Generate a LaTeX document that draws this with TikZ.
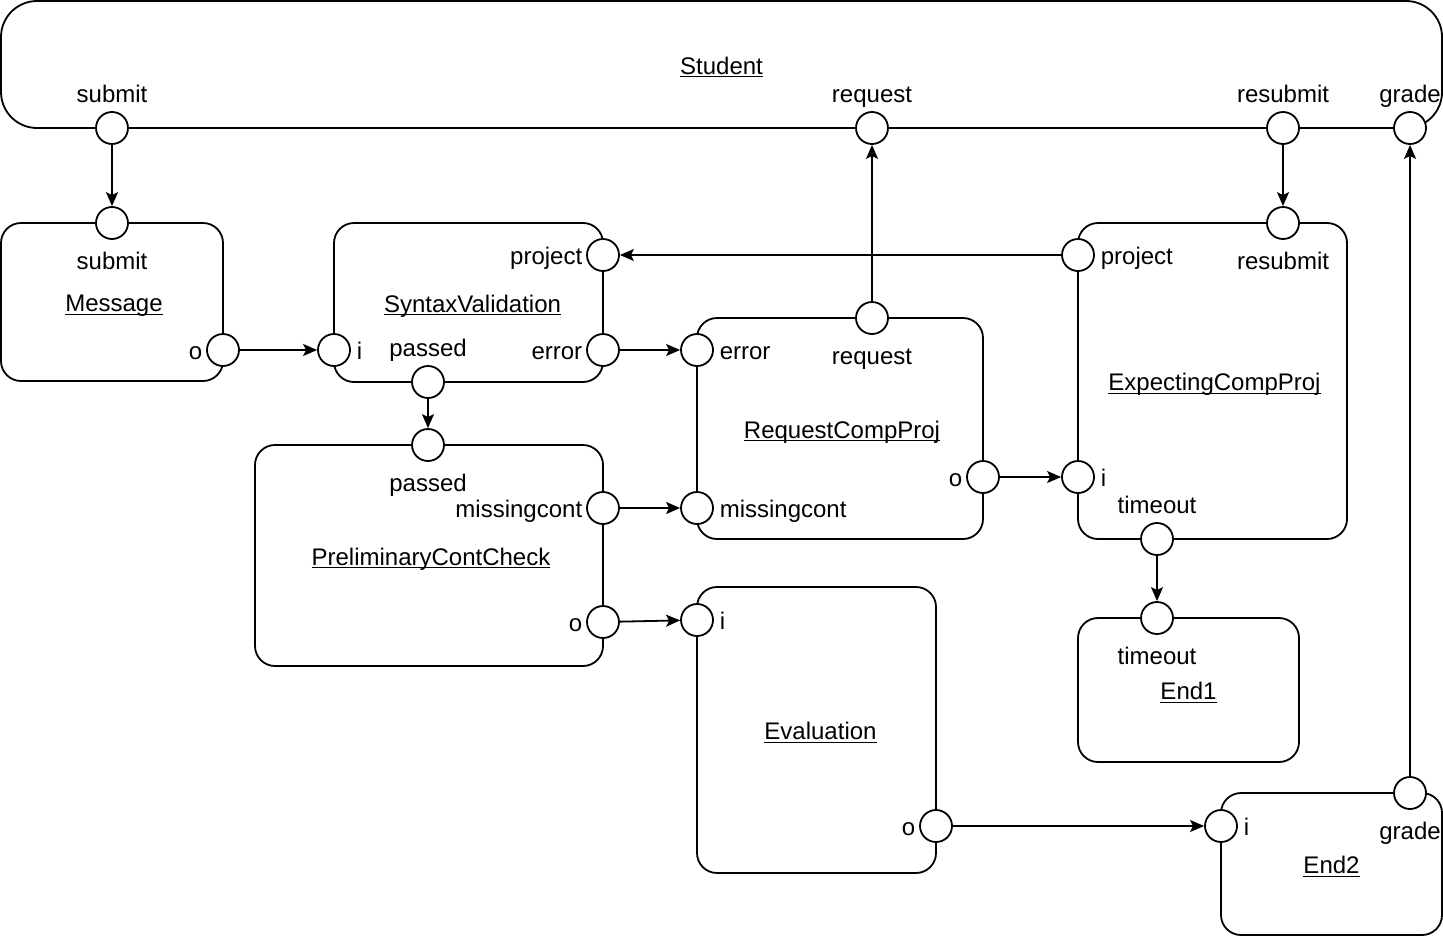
\documentclass[tikz,border=0pt]{standalone}
\usepackage{fontspec}
\setmainfont{Liberation Sans}
\usetikzlibrary{positioning,arrows.meta}

\newsavebox\ulbox
\newcommand{\titleul}[1]{\sbox\ulbox{#1}\rlap{\rule[-1.5pt]{\wd\ulbox}{0.5pt}}\usebox\ulbox}

\begin{document}
\begin{tikzpicture}[
  x=0.5pt, y=-0.5pt,
  line width=0.9pt,
  font=\fontsize{12}{14}\selectfont,
  box/.style={draw, rounded corners=10pt, inner sep=0pt, text height=9.5pt, text depth=0pt},
  port/.style={circle, draw, fill=white, minimum size=16pt, inner sep=0pt},
  lblL/.style={anchor=base east, inner sep=0pt, xshift=-1.5pt, yshift=-4.5pt},
  lblR/.style={anchor=base west, inner sep=0pt, xshift=2.5pt, yshift=-4.5pt},
  lblA/.style={anchor=base, inner sep=0pt, yshift=4.5pt},
  lblB/.style={anchor=base, inner sep=0pt, yshift=-14.75pt},
  >={Stealth[length=7pt,width=6pt,inset=1.5pt]}
]
\useasboundingbox (0,0) rectangle (1443,937);

% components
\node[box, rounded corners=18pt, minimum width=720.5pt, minimum height=63.5pt] (student) at (721.5,64.5) {\titleul{Student}};
\node[box, minimum width=111pt, minimum height=79pt, text width=109pt, align=center] (message) at (112,302) {\hspace*{2pt}\titleul{Message}};
\node[box, minimum width=134.5pt, minimum height=79.5pt, text width=130pt, align=center] (syntax) at (468.5,302.5) {\hspace*{4pt}\titleul{SyntaxValidation}};
\node[box, minimum width=174pt, minimum height=110.5pt, text width=170pt, align=center] (prelim) at (429,555.5) {\hspace*{2pt}\titleul{PreliminaryContCheck}};
\node[box, minimum width=143pt, minimum height=110.5pt, text width=140pt, align=center] (request) at (840,428.5) {\hspace*{2pt}\titleul{RequestCompProj}};
\node[box, minimum width=134.5pt, minimum height=158pt, text width=130pt, align=center] (expecting) at (1212.5,381) {\hspace*{2pt}\titleul{ExpectingCompProj}};
\node[box, minimum width=110.5pt, minimum height=72pt] (endone) at (1188.5,690) {\titleul{End1}};
\node[box, minimum width=119.5pt, minimum height=143pt, text width=115pt, align=center] (evaluation) at (816.5,730) {\hspace*{4pt}\titleul{Evaluation}};
\node[box, minimum width=110.5pt, minimum height=71pt] (endtwo) at (1331.5,864) {\titleul{End2}};

% ports
\node[port] (stuSubmit) at (112,128) {};
\node[port] (stuRequest) at (872,128) {};
\node[port] (stuResubmit) at (1283,128) {};
\node[port] (stuGrade) at (1410,128) {};
\node[port] (msgSubmit) at (112,223) {};
\node[port] (msgO) at (223,350) {};
\node[port] (svI) at (334,350) {};
\node[port] (svProject) at (603,255) {};
\node[port] (svError) at (603,350) {};
\node[port] (svPassed) at (428,382) {};
\node[port] (pccPassed) at (428,445) {};
\node[port] (pccMissing) at (603,508) {};
\node[port] (pccO) at (603,622) {};
\node[port] (rcpError) at (697,350) {};
\node[port] (rcpRequest) at (872,318) {};
\node[port] (rcpMissing) at (697,508) {};
\node[port] (rcpO) at (983,477) {};
\node[port] (ecpProject) at (1078,255) {};
\node[port] (ecpResubmit) at (1283,223) {};
\node[port] (ecpI) at (1078,477) {};
\node[port] (ecpTimeout) at (1157,539) {};
\node[port] (endOneTimeout) at (1157,618) {};
\node[port] (evalI) at (697,620) {};
\node[port] (evalO) at (936,826) {};
\node[port] (endTwoI) at (1221,826) {};
\node[port] (endTwoGrade) at (1410,793) {};

% port labels
\node[lblA] (stuSubmitLbl) at (stuSubmit.north) {submit};
\node[lblA] (stuRequestLbl) at (stuRequest.north) {request};
\node[lblA] (stuResubmitLbl) at (stuResubmit.north) {resubmit};
\node[lblA] (stuGradeLbl) at (stuGrade.north) {grade};
\node[lblB] (msgSubmitLbl) at (msgSubmit.south) {submit};
\node[lblL] (msgOLbl) at (msgO.west) {o};
\node[lblR] (svILbl) at (svI.east) {i};
\node[lblL] (svProjectLbl) at (svProject.west) {project};
\node[lblL] (svErrorLbl) at (svError.west) {error};
\node[lblA] (svPassedLbl) at (svPassed.north) {passed};
\node[lblB] (pccPassedLbl) at (pccPassed.south) {passed};
\node[lblL] (pccMissingLbl) at (pccMissing.west) {missingcont};
\node[lblL] (pccOLbl) at (pccO.west) {o};
\node[lblR] (rcpErrorLbl) at (rcpError.east) {error};
\node[lblB] (rcpRequestLbl) at (rcpRequest.south) {request};
\node[lblR] (rcpMissingLbl) at (rcpMissing.east) {missingcont};
\node[lblL] (rcpOLbl) at (rcpO.west) {o};
\node[lblR] (ecpProjectLbl) at (ecpProject.east) {project};
\node[lblB] (ecpResubmitLbl) at (ecpResubmit.south) {resubmit};
\node[lblR] (ecpILbl) at (ecpI.east) {i};
\node[lblA] (ecpTimeoutLbl) at (ecpTimeout.north) {timeout};
\node[lblB] (endOneTimeoutLbl) at (endOneTimeout.south) {timeout};
\node[lblR] (evalILbl) at (evalI.east) {i};
\node[lblL] (evalOLbl) at (evalO.west) {o};
\node[lblR] (endTwoILbl) at (endTwoI.east) {i};
\node[lblB] (endTwoGradeLbl) at (endTwoGrade.south) {grade};

% connectors
\draw[->] (stuSubmit) -- (msgSubmit);
\draw[->] (msgO) -- (svI);
\draw[->] (svPassed) -- (pccPassed);
\draw[->] (svError) -- (rcpError);
\draw[->] (pccMissing) -- (rcpMissing);
\draw[->] (pccO) -- (evalI);
\draw[->] (rcpRequest) -- (stuRequest);
\draw[->] (ecpProject) -- (svProject);
\draw[->] (stuResubmit) -- (ecpResubmit);
\draw[->] (rcpO) -- (ecpI);
\draw[->] (ecpTimeout) -- (endOneTimeout);
\draw[->] (evalO) -- (endTwoI);
\draw[->] (endTwoGrade) -- (stuGrade);

\end{tikzpicture}
\end{document}
